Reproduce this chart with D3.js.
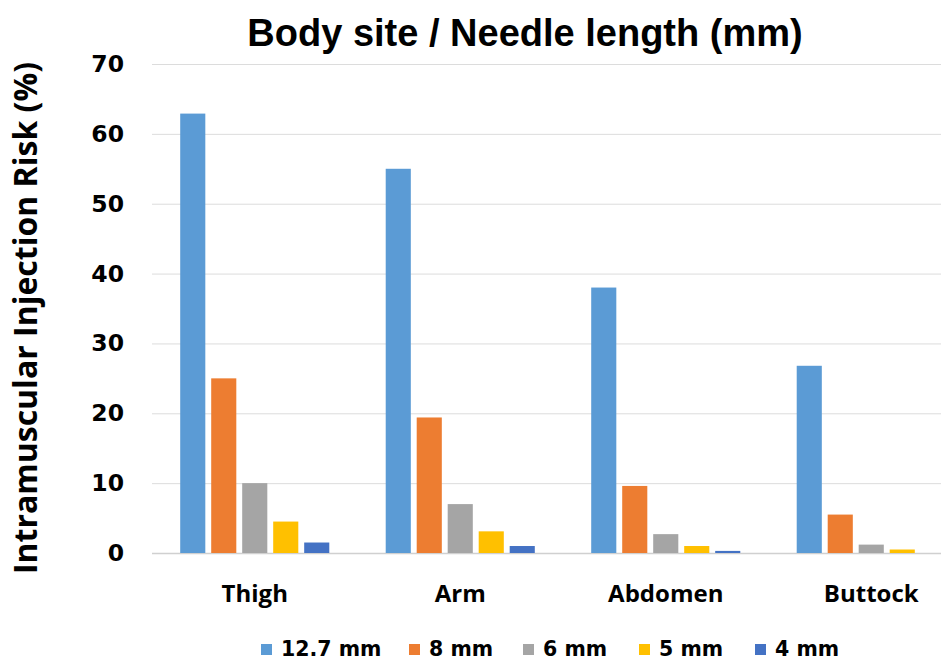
<!DOCTYPE html>
<html>
<head>
<meta charset="utf-8">
<script src="https://cdn.jsdelivr.net/npm/d3@7"></script>
<style>
  body { margin: 0; background: #fff; }
  text { fill: #000; }
</style>
</head>
<body>
<svg width="941" height="661"></svg>
<script>
// body sites along the x axis
var sites = ['Thigh', 'Arm', 'Abdomen', 'Buttock'];
// needle lengths (series)
var needles = ['12.7 mm', '8 mm', '6 mm', '5 mm', '4 mm'];
var colors = ['#5b9bd5', '#ed7d31', '#a5a5a5', '#ffc000', '#4472c4'];
// risk (%) per needle, one value per site
var risk127 = [62.9, 55.0, 38.0, 26.8];
var risk8 = [25.0, 19.4, 9.6, 5.5];
var risk6 = [10.0, 7.0, 2.7, 1.2];
var risk5 = [4.5, 3.1, 1.0, 0.5];
var risk4 = [1.5, 1.0, 0.3, 0.0];
var yTicks = [0, 10, 20, 30, 40, 50, 60, 70];

var series = [risk127, risk8, risk6, risk5, risk4];

var svg = d3.select('svg');

var x0 = d3.scaleBand().domain(sites).range([152, 974]);
var x1 = d3.scaleBand().domain(needles).range([0, x0.bandwidth()])
    .paddingInner(0.19).paddingOuter(0.91);
var y = d3.scaleLinear().domain([0, 70]).range([553, 64]);

// gridlines
svg.append('g')
    .selectAll('line')
    .data(yTicks)
    .enter().append('line')
      .attr('x1', 152).attr('x2', 941)
      .attr('y1', function(d) { return y(d) + 0.5; })
      .attr('y2', function(d) { return y(d) + 0.5; })
      .attr('stroke', function(d) { return d === 0 ? '#d0d0d0' : '#dcdcdc'; })
      .attr('stroke-width', function(d) { return d === 0 ? 1.5 : 1; });

// y tick labels
var yAxis = svg.append('g')
    .attr('transform', 'translate(124,0)')
    .call(d3.axisLeft(y).tickValues(yTicks).tickSize(0).tickPadding(0));
yAxis.select('.domain').remove();
yAxis.selectAll('text')
    .style('font-family', 'DejaVu Sans, sans-serif')
    .style('font-weight', 700)
    .style('font-size', '23.5px')
    .attr('fill', '#000');

// bars
var site = svg.selectAll('g.site')
  .data(sites)
  .enter().append('g')
    .attr('class', 'site')
    .attr('transform', function(d) { return 'translate(' + x0(d) + ',0)'; });

site.selectAll('rect')
    .data(function(d, i) { return needles.map(function(n, j) { return {needle: n, value: series[j][i], c: colors[j]}; }); })
    .enter().append('rect')
      .attr('x', function(d) { return x1(d.needle); })
      .attr('width', x1.bandwidth())
      .attr('y', function(d) { return y(d.value); })
      .attr('height', function(d) { return y(0) - y(d.value); })
      .attr('fill', function(d) { return d.c; });

// category labels
var xAxis = svg.append('g')
    .attr('transform', 'translate(0,585)')
    .call(d3.axisBottom(x0).tickSize(0).tickPadding(0));
xAxis.select('.domain').remove();
xAxis.selectAll('text')
    .style('font-family', 'Open Sans, sans-serif')
    .style('font-weight', 700)
    .style('font-size', '24px')
    .attr('fill', '#000');

// title
svg.append('text')
    .attr('x', 525).attr('y', 46)
    .attr('text-anchor', 'middle')
    .style('font-family', 'Liberation Sans Narrow, Arial Narrow, sans-serif')
    .style('font-weight', 700)
    .style('font-size', '38px')
    .text('Body site / Needle length (mm)');

// y axis title
svg.append('text')
    .attr('transform', 'translate(37,318) rotate(-90)')
    .attr('text-anchor', 'middle')
    .style('font-family', 'Open Sans, sans-serif')
    .style('font-weight', 700)
    .style('font-size', '32px')
    .text('Intramuscular Injection Risk (%)');

// legend
var legX = [261, 409, 523, 639, 755];
var leg = svg.selectAll('g.leg')
  .data(needles)
  .enter().append('g')
    .attr('class', 'leg')
    .attr('transform', function(d, i) { return 'translate(' + legX[i] + ',650)'; });
leg.append('rect')
    .attr('x', 0).attr('y', -6)
    .attr('width', 11).attr('height', 11)
    .attr('fill', function(d, i) { return colors[i]; });
leg.append('text')
    .attr('x', 20).attr('y', 6)
    .style('font-family', 'DejaVu Sans, sans-serif')
    .style('font-weight', 700)
    .style('font-size', '20.5px')
    .text(function(d) { return d; });
</script>
</body>
</html>
